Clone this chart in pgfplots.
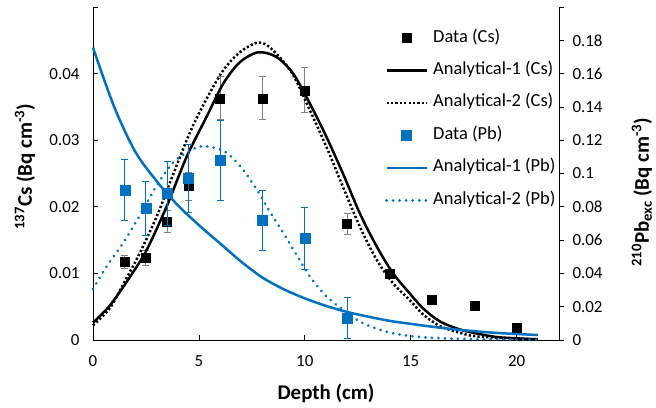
\documentclass[border=0pt]{standalone}
\usepackage{pgfplots}
\pgfplotsset{compat=1.18}
\usepackage{fontspec}
\setmainfont{Carlito}
\definecolor{pbblue}{HTML}{0070C0}
\definecolor{errgray}{HTML}{808080}

\begin{document}
\begin{tikzpicture}
\pgfplotsset{
  every axis/.append style={
    scale only axis, width=466bp, height=333bp,
    at={(0,0)}, anchor=south west,
    xmin=0, xmax=22,
    font=\fontsize{17}{20}\selectfont,
    tick style={black, line width=0.75bp},
    axis line style={-, black, line width=0.75bp},
    major tick length=5bp,
    /pgf/number format/assume math mode=true,
    clip=false,
  },
  legend image code/.code={\draw[mark repeat=2,mark phase=2,#1] plot coordinates {(0bp,0bp) (20bp,0bp) (40bp,0bp)};},
}
\begin{axis}[
  axis x line*=bottom, axis y line*=left,
  ymin=0, ymax=0.05,
  xtick={0,5,10,15,20}, xticklabels={0,5,10,15,20},
  ytick={0,0.01,0.02,0.03,0.04,0.05}, yticklabels={0,0.01,0.02,0.03,0.04,{}},
  tick align=inside,
  xticklabel style={yshift=-12bp},
  yticklabel style={xshift=-10bp},
  xlabel={\bfseries Depth (cm)},
  ylabel={\bfseries\textsuperscript{137}Cs (Bq cm\textsuperscript{-3})},
  xlabel style={at={(axis description cs:0.5,-0.16)}, anchor=center, font=\fontsize{21}{24}\selectfont},
  ylabel style={at={(axis description cs:-0.146,0.52)}, anchor=center, rotate=0, font=\fontsize{21}{24}\selectfont},
]
% Data (Cs)
\addplot[only marks, mark=square*, mark size=4.5bp, black,
  error bars/.cd, y dir=both, y explicit,
  error bar style={errgray, line width=1bp},
  error mark options={rotate=90, errgray, mark size=3.5bp, line width=1bp}]
  table[x=x, y=y, y error=e] {
x y e
1.5 0.0117 0.0010
2.5 0.0123 0.0011
3.5 0.0178 0.0016
4.5 0.0231 0.0021
6 0.0363 0.0032
8 0.0363 0.0032
10 0.0375 0.0034
12 0.0174 0.0016
14 0.0099 0.0006
16 0.0061 0
18 0.0051 0
20 0.0018 0
};
% Analytical-1 (Cs)
\addplot[black, line width=2.5bp, smooth] table {
x y
0 0.0026
0.8 0.0052
1.75 0.0095
2.53 0.0135
3.47 0.0200
4.42 0.0275
5.36 0.0335
6.15 0.0385
6.93 0.0417
7.8 0.0432
8.66 0.0425
9.45 0.0400
10.24 0.0355
11.02 0.0305
11.8 0.0250
12.6 0.0190
13.4 0.0140
14.17 0.0100
14.95 0.0070
15.6 0.0047
16.37 0.0028
17.3 0.0016
18.25 0.0009
19.2 0.0004
21 0.0001
};
% Analytical-2 (Cs)
\addplot[black, line width=2.5bp, smooth, dash pattern=on 2.2bp off 2.2bp] table {
x y
0 0.0022
0.8 0.0048
1.5 0.0088
2.2 0.0130
3.0 0.0185
3.8 0.0250
4.58 0.0312
5.36 0.0362
6.15 0.0405
6.93 0.0432
7.7 0.0446
8.2 0.0443
8.8 0.0425
9.45 0.0398
10.24 0.0345
11.02 0.0290
11.8 0.0230
12.6 0.0170
13.4 0.0120
14.17 0.0085
14.95 0.0060
15.6 0.0038
16.37 0.0021
17.3 0.0011
18.25 0.0005
21 0.0001
};
\end{axis}
\begin{axis}[
  axis y line*=right, axis x line=none,
  ymin=0, ymax=0.2,
  ytick={0,0.02,0.04,0.06,0.08,0.1,0.12,0.14,0.16,0.18,0.2},
  yticklabels={0,0.02,0.04,0.06,0.08,0.1,0.12,0.14,0.16,0.18,{}},
  tick align=outside,
  yticklabel style={xshift=5bp},
  ylabel={\bfseries\textsuperscript{210}Pb\textsubscript{exc} (Bq cm\textsuperscript{-3})},
  ylabel style={at={(axis description cs:1.178,0.444)}, anchor=center, rotate=0, font=\fontsize{21}{24}\selectfont},
  legend style={draw=none, fill=none, at={(0.6266,0.931)}, anchor=north west,
    inner sep=0pt, row sep=16.4bp, column sep=5bp,
    font=\fontsize{18.5}{21}\selectfont,
    nodes={inner sep=0pt, text height=12bp, text depth=4bp}},
  legend cell align=left,
]
\addlegendimage{only marks, mark=square*, mark size=4.5bp, black}
\addlegendentry{Data (Cs)}
\addlegendimage{black, line width=2.5bp}
\addlegendentry{Analytical-1 (Cs)}
\addlegendimage{black, line width=2.5bp, dash pattern=on 2.2bp off 2.2bp}
\addlegendentry{Analytical-2 (Cs)}
% Data (Pb)
\addplot[only marks, mark=square*, mark size=5bp, pbblue,
  error bars/.cd, y dir=both, y explicit,
  error bar style={pbblue, line width=1bp},
  error mark options={rotate=90, pbblue, mark size=3.5bp, line width=1bp}]
  table[x=x, y=y, y error=e] {
x y e
1.5 0.090 0.0185
2.5 0.079 0.0163
3.5 0.088 0.0190
4.5 0.097 0.0205
6 0.108 0.0240
8 0.0719 0.0180
10 0.061 0.0187
12 0.0133 0.0125
};
\addlegendentry{Data (Pb)}
% Analytical-1 (Pb)
\addplot[pbblue, line width=2.5bp, smooth] table {
x y
0 0.1756
1 0.140
2 0.113
3 0.0955
4 0.0810
5 0.0690
6 0.0580
7 0.0470
8 0.0375
9 0.0305
10 0.0250
11 0.0205
12 0.0168
13 0.0140
14 0.0115
15 0.0097
16 0.0080
17 0.0065
18 0.0053
19 0.0043
20 0.0036
21 0.0030
};
\addlegendentry{Analytical-1 (Pb)}
% Analytical-2 (Pb)
\addplot[pbblue, line width=3bp, smooth, line cap=round, dash pattern=on 0.01bp off 6.5bp] table {
x y
0 0.0306
0.65 0.0443
1.43 0.0584
2.2 0.0745
3.0 0.0926
3.79 0.1067
4.58 0.1137
5.2 0.1164
6.15 0.1137
6.93 0.1047
7.72 0.0906
8.35 0.0770
9.0 0.0640
9.45 0.0544
10.24 0.0382
11.02 0.0262
11.8 0.0181
12.6 0.0110
13.4 0.0068
14.17 0.0040
15 0.0024
16 0.0013
18 0.0005
21 0.0002
};
\addlegendentry{Analytical-2 (Pb)}
\end{axis}
\pgfresetboundingbox
\path[use as bounding box] (-93bp,-68bp) rectangle (563bp,340bp);
\end{tikzpicture}
\end{document}
